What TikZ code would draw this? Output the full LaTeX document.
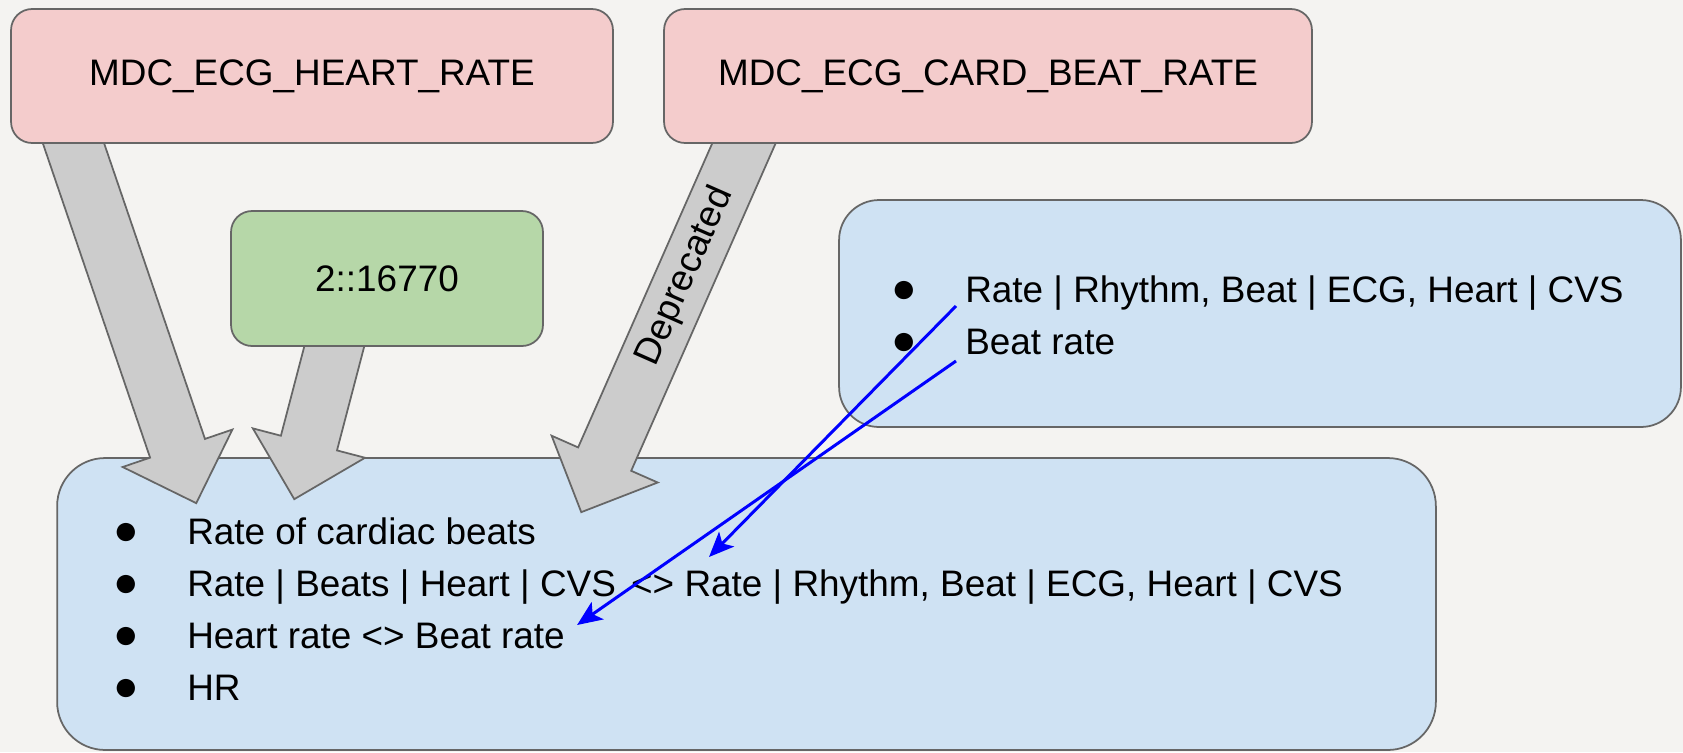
\documentclass[tikz,border=0pt]{standalone}
\usepackage{graphicx}
\usepackage{fontspec}
\setmainfont{Liberation Sans}
\usetikzlibrary{calc,arrows.meta}
\definecolor{pinkbox}{HTML}{F4CCCC}
\definecolor{greenbox}{HTML}{B6D7A8}
\definecolor{bluebox}{HTML}{CFE2F3}
\definecolor{slide}{HTML}{F4F3F1}
\definecolor{edge}{HTML}{666666}
\pgfdeclarelayer{back}
\pgfdeclarelayer{mid}
\pgfsetlayers{back,mid,main}
\tikzset{
  box/.style={draw=edge, line width=1pt, rounded corners=0.42cm, align=center},
  panel/.style={box, fill=bluebox},
  item/.style={anchor=base west, inner sep=0},
  fat/.style={draw=edge, line width=1pt, fill=black!20, line join=miter},
  link/.style={draw=blue, line width=1.7pt, -{Stealth[length=0.5cm,width=0.42cm,inset=0.12cm]}}
}
\newcommand{\bigarrow}[2]{%
  \coordinate (s) at ($(#1)!-0.4cm!(#2)$);
  \coordinate (b) at ($(#2)!1.16cm!(#1)$);
  \draw [fat] ($(s)!0.58cm!90:(#2)$) -- ($(b)!0.58cm!90:(#2)$) -- ($(b)!1.16cm!90:(#2)$) -- (#2)
    -- ($(b)!1.16cm!-90:(#2)$) -- ($(b)!0.58cm!-90:(#2)$) -- ($(s)!0.58cm!-90:(#2)$) -- cycle;
}
\newcommand{\itm}{\makebox[2.44cm]{\scalebox{1.15}{●}}}

\begin{document}
\begin{tikzpicture}[x=0.02cm, y=-0.02cm, font=\fontsize{21}{29.6}\selectfont]
     \useasboundingbox (0,0) rectangle (1683,752);
     \begin{pgfonlayer}{back}
     \fill [slide] (0,0) rectangle (1683,752);
     \node [panel, rounded corners=0.8cm, minimum width=16.84cm, minimum height=4.54cm] (TR) at (1260,313.5) {};
     \node [panel, rounded corners=0.96cm, minimum width=27.58cm, minimum height=5.84cm] (BL) at (746.5,604) {};
     \end{pgfonlayer}
     \node [item] (TR1) at (843,302) {\itm Rate | Rhythm, Beat | ECG, Heart | CVS};
     \node [item] (TR2) at (843,354) {\itm Beat rate};
     \node [item] (BL1) at (65,544) {\itm Rate of cardiac beats};
     \node [item] (BL2) at (65,596) {\itm Rate | Beats | Heart | CVS\hspace{0.1cm} <> Rate | Rhythm, Beat | ECG, Heart | CVS};
     \node [item] (BL3) at (65,648) {\itm Heart rate <> Beat rate};
     \node [item] (BL4) at (65,700) {\itm HR};
     \node [box, fill=pinkbox, minimum width=12.04cm, minimum height=2.68cm] (HR) at (312,76) {MDC\_ECG\_HEART\_RATE};
     \node [box, fill=pinkbox, minimum width=12.96cm, minimum height=2.68cm] (CB) at (988,76) {MDC\_ECG\_CARD\_BEAT\_RATE};
     \node [box, fill=greenbox, minimum width=6.24cm, minimum height=2.7cm] (CD) at (387,278.5) {2::16770};
     \coordinate (HRs) at ($(HR.south west)+(63.5,0)$);
     \coordinate (HRt) at ($(BL.north west)+(140,46)$);
     \coordinate (CDs) at ($(CD.south west)+(104,0)$);
     \coordinate (CDt) at ($(BL.north west)+(238,42)$);
     \coordinate (CBs) at ($(CB.south west)+(80.5,0)$);
     \coordinate (CBt) at ($(BL.north west)+(525,55)$);
     \begin{pgfonlayer}{mid}
     \bigarrow{HRs}{HRt}
     \bigarrow{CDs}{CDt}
     \bigarrow{CBs}{CBt}
     \end{pgfonlayer}
     \path (CBs) -- (CBt) node [pos=0.36, sloped] {Deprecated};
     \coordinate (R1) at ($(TR1.base west)+(113,4)$);
     \coordinate (R2) at ($(TR2.base west)+(113,7)$);
     \coordinate (L1) at ($(BL2.base west)+(644,-39)$);
     \coordinate (L2) at ($(BL3.base east)+(12,-23)$);
     \draw [link] (R1) -- (L1);
     \draw [link] (R2) -- (L2);
\end{tikzpicture}
\end{document}
